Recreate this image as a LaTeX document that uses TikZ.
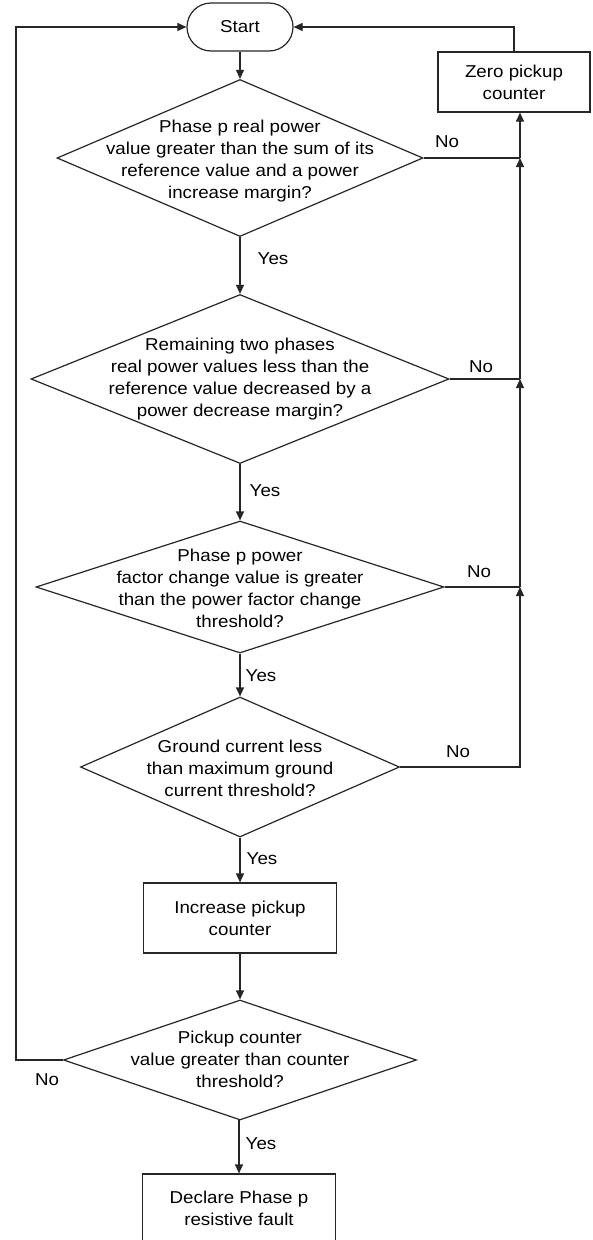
\documentclass[tikz,border=0pt]{standalone}
\usepackage{fontspec}
\setmainfont{Liberation Sans}[FakeStretch=1.09]
\usetikzlibrary{arrows.meta,shapes.geometric}
\begin{document}
\begin{tikzpicture}[x=1pt,y=-1pt,
  every node/.style={font=\fontsize{17.2pt}{22pt}\selectfont},
  line/.style={line width=1.2pt,draw=black!85},
  arr/.style={line, -{Triangle[length=9pt,width=8pt]}},
  dia/.style={diamond, draw=black!85, line width=1.2pt, inner sep=0pt},
  boxn/.style={rectangle, draw=black!85, line width=1.2pt, inner sep=0pt, align=center},
  txt/.style={align=center, inner sep=0pt},
  lab/.style={inner sep=0pt}]
\useasboundingbox (0,0) rectangle (593,1240);
% nodes
\node[boxn, rounded corners=24pt, minimum width=106pt, minimum height=48pt] (start) at (240,27) {Start};
\node[dia, minimum width=366pt, minimum height=157pt] (d1) at (240,158) {};
\node[txt] (d1t) at (240,161) {Phase p real power\\value greater than the sum of its\\reference value and a power\\increase margin?};
\node[boxn, minimum width=152pt, minimum height=60pt] (zero) at (514,82) {Zero pickup\\counter};
\node[dia, minimum width=418pt, minimum height=169pt] (d2) at (240,379) {};
\node[txt] (d2t) at (240,379) {Remaining two phases\\real power values less than the\\reference value decreased by a\\power decrease margin?};
\node[dia, minimum width=408pt, minimum height=132pt] (d3) at (240,587) {};
\node[txt] (d3t) at (240,588) {Phase p power\\factor change value is greater\\than the power factor change\\threshold?};
\node[dia, minimum width=319pt, minimum height=140pt] (d4) at (240,767) {};
\node[txt] (d4t) at (240,768) {Ground current less\\than maximum ground\\current threshold?};
\node[boxn, minimum width=193pt, minimum height=70pt] (inc) at (240,918) {Increase pickup\\counter};
\node[dia, minimum width=353pt, minimum height=120pt] (d5) at (240,1060) {};
\node[txt] (d5t) at (240,1059) {Pickup counter\\value greater than counter\\threshold?};
\node[boxn, minimum width=193pt, minimum height=68pt] (decl) at (239,1208) {Declare Phase p\\resistive fault};
% junctions
\coordinate (j1) at (520,158);
\coordinate (j2) at (520,379);
\coordinate (j3) at (520,587);
\coordinate (lft) at (16,27);
% yes path
\draw[arr] (start) -- (d1);
\draw[arr] (d1) -- (d2);
\draw[arr] (d2) -- (d3);
\draw[arr] (d3) -- (d4);
\draw[arr] (d4) -- (inc);
\draw[arr] (inc) -- (d5);
\draw[arr] (d5.south) -- (d5.south -| decl.north) -- (decl.north);
% no paths
\draw[line] (d1.east) -- (j1);
\draw[arr] (j1) -- (j1 |- zero.south);
\draw[arr] (zero.north) |- (start.east);
\draw[line] (d2.east) -- (j2);
\draw[arr] (j2) -- (j1);
\draw[line] (d3.east) -- (j3);
\draw[arr] (j3) -- (j2);
\draw[arr] (d4.east) -| (j3);
\draw[arr] (d5.west) -| (lft) -- (start.west);
% labels
\node[lab] (n1) at (447,142) {No};
\node[lab] (n2) at (481,367) {No};
\node[lab] (n3) at (479,572) {No};
\node[lab] (n4) at (458,752) {No};
\node[lab] (n5) at (47,1080) {No};
\node[lab] (y1) at (273,259) {Yes};
\node[lab] (y2) at (265,491) {Yes};
\node[lab] (y3) at (261,676) {Yes};
\node[lab] (y4) at (262,859) {Yes};
\node[lab] (y5) at (261,1144) {Yes};
\end{tikzpicture}
\end{document}
